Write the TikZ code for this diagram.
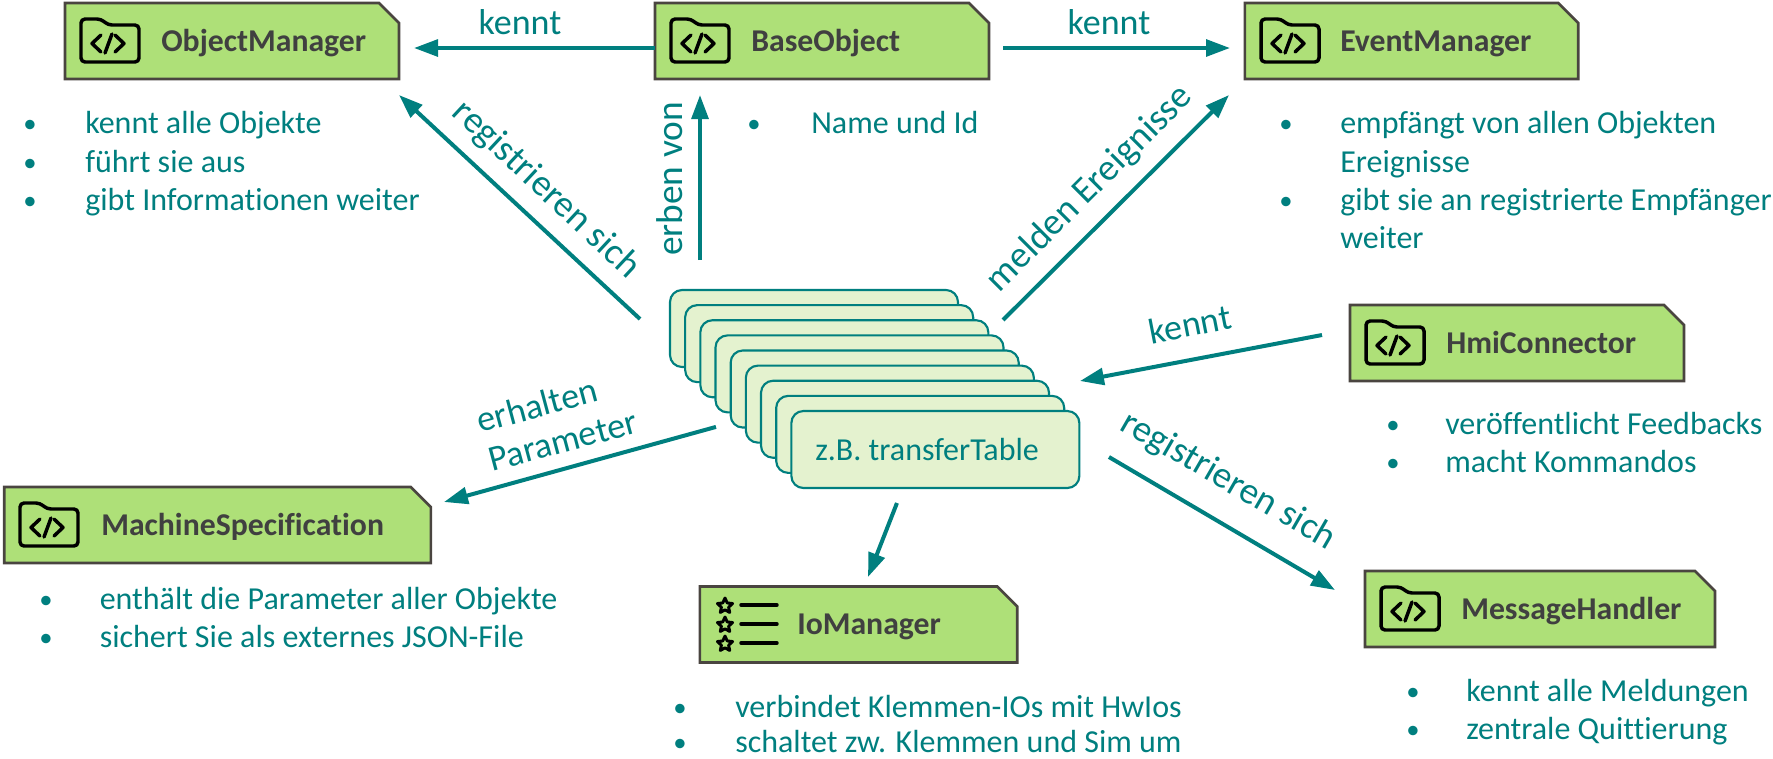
\documentclass[tikz,border=0pt]{standalone}
\usepackage{fontspec}
\setmainfont{Carlito}[Ligatures=NoCommon]
\usetikzlibrary{arrows.meta}
\definecolor{tealc}{HTML}{007F7F}
\definecolor{boxfill}{HTML}{AEE078}
\definecolor{boxline}{HTML}{4A4540}
\definecolor{cardfill}{HTML}{E4F2CF}
\definecolor{titlec}{HTML}{404040}
\tikzset{
  gbox/.style={rectangle,inner sep=0pt,outer sep=0pt,minimum height=57pt},
  gline/.style={draw=boxline,fill=boxfill,line width=2pt,line join=miter},
  card/.style={rectangle,rounded corners=9pt,draw=tealc,fill=cardfill,line width=1.6pt,
    minimum width=216pt,minimum height=57.75pt,inner sep=0pt,outer sep=0pt},
  title/.style={anchor=base west,inner sep=0pt,text=titlec,font=\fontsize{23.8}{28}\selectfont\bfseries},
  body/.style={anchor=base west,inner sep=0pt,text=tealc,font=\fontsize{24}{29}\selectfont},
  bul/.style={anchor=base,inner sep=0pt,text=tealc,font=\fontsize{20}{24}\selectfont},
  elabel/.style={inner sep=0pt,text=tealc,font=\fontsize{27}{33}\selectfont,align=center},
  elong/.style={elabel,font=\fontsize{28}{33}\selectfont},
  conn/.style={draw=tealc,line width=3pt,-{Triangle[length=18pt,width=12.5pt]}},
  ico/.style={draw=black,line width=2.6pt,line cap=round,line join=round},
}
\newcommand{\gnode}[4]{%
  \node[gbox,minimum width=#4pt] (#1) at (#2,#3) {};
  \draw[gline] (#1.north west) -- ([xshift=-15pt]#1.north east) -- ([yshift=-15pt]#1.north east)
     -- (#1.south east) -- (#1.south west) -- cycle;}
\newcommand{\folderico}[2]{%
  \begin{scope}[shift={(#1,#2)}]
    \draw[ico,rounded corners=3pt] (0,43)--(0,0)--(20,0)--(27,6)--(58,6)--(58,43)--cycle;
    \draw[ico] (20,16)--(11,24.5)--(20,33);
    \draw[ico] (31,15)--(24,34);
    \draw[ico] (34,16)--(43,24.5)--(34,33);
  \end{scope}}
\newcommand{\staricon}[2]{%
  \begin{scope}[shift={(#1,#2)}]
    \draw[ico,line width=2.2pt] (-90:8)--(-54:3.8)--(-18:8)--(18:3.8)--(54:8)--(90:3.8)--(126:8)--(162:3.8)--(198:8)--(234:3.8)--cycle;
  \end{scope}}
\newcommand{\bitem}[5]{%
  \node[bul] (#1b) at (#2,#4-1) {•};
  \node[body] (#1t) at (#3,#4) {#5};}
\begin{document}
\begin{tikzpicture}[x=0.75pt,y=-0.75pt]
\useasboundingbox (0,0) rectangle (1773,758);
% boxes
\gnode{om}{232}{41}{250.5}
\gnode{base}{822}{41}{250.5}
\gnode{em}{1411.5}{41}{250}
\gnode{hmi}{1517}{343}{250.5}
\gnode{ms}{217.5}{525}{320}
\gnode{io}{858.5}{624.5}{238}
\gnode{mh}{1540}{609}{262.5}
% icons
\folderico{81}{19}\folderico{671}{19}\folderico{1261}{19}
\folderico{1366}{321}\folderico{20}{503}\folderico{1381}{587}
\staricon{725}{606}\staricon{725}{625}\staricon{725}{644}
\draw[ico] (741,605)--(777,605);
\draw[ico] (741,624)--(777,624);
\draw[ico] (741,643)--(777,643);
% titles
\node[title] (omt) at (161,51) {ObjectManager};
\node[title] (baset) at (751,51) {BaseObject};
\node[title] (emt) at (1340,51) {EventManager};
\node[title] (hmit) at (1446,353) {HmiConnector};
\node[title] (mst) at (101,535) {MachineSpecification};
\node[title] (iot) at (797,634) {IoManager};
\node[title] (mht) at (1461,619) {MessageHandler};
% cards
\foreach \i in {1,...,9}{
  \node[card] (c\i) at ({814+(\i-1)*15.17},{328.5+(\i-1)*15.125}) {};
}
\node[body] (ct) at (815,460) {z.B. transferTable};
% bullets
\bitem{oa}{30}{85}{133}{kennt alle Objekte}
\bitem{ob}{30}{85}{172}{führt sie aus}
\bitem{oc}{30}{85}{210}{gibt Informationen weiter}
\bitem{ba}{754}{811}{133}{Name und Id}
\bitem{ea}{1286}{1340}{133}{empfängt von allen Objekten}
\node[body] (eb) at (1340,172) {Ereignisse};
\bitem{ec}{1286}{1340}{210}{gibt sie an registrierte Empfänger}
\node[body] (ed) at (1340,248) {weiter};
\bitem{ha}{1393}{1445}{434}{veröffentlicht Feedbacks}
\bitem{hb}{1393}{1445}{472}{macht Kommandos}
\bitem{ma}{46}{99.5}{609}{enthält die Parameter aller Objekte}
\bitem{mb}{46}{99.5}{647}{sichert Sie als externes JSON-File}
\bitem{ia}{680}{735}{717}{verbindet Klemmen-IOs mit HwIos}
\bitem{ib}{680}{735}{752}{schaltet zw. Klemmen und Sim um}
\bitem{ja}{1413}{1466}{701}{kennt alle Meldungen}
\bitem{jb}{1413}{1466}{739}{zentrale Quittierung}
% connectors
\draw[conn] ([shift={(-167,7)}]base.center) -- ([shift={(182,7)}]om.center);
\draw[conn] ([shift={(181,7)}]base.center) -- ([shift={(-181.5,7)}]em.center);
\draw[conn] ([shift={(-114,-68.5)}]c1.center) -- ([shift={(-122,54)}]base.center);
\draw[conn] ([shift={(-174,-9.5)}]c1.center) -- ([shift={(167,54)}]om.center);
\draw[conn] ([shift={(189,-8.5)}]c1.center) -- ([shift={(-182.5,54)}]em.center);
\draw[conn] ([shift={(-195,-8)}]hmi.center) -- ([shift={(144.6,-68.5)}]c9.center);
\draw[conn] ([shift={(-158.7,37.9)}]c5.center) -- ([shift={(226.5,-23)}]ms.center);
\draw[conn] ([shift={(-38.4,53.5)}]c9.center) -- ([shift={(9.5,-47.5)}]io.center);
\draw[conn] ([shift={(173.6,7.5)}]c9.center) -- ([shift={(-205,-19)}]mh.center);
% labels
\node[elabel,anchor=base] (l1) at (520,34) {kennt};
\node[elabel,anchor=base] (l2) at (1109,34) {kennt};
\node[elong,rotate=90] (l3) at (670,179) {erben von};
\node[elong,rotate=-43] (l4) at (546,190) {registrieren sich};
\node[elong,rotate=45] (l5) at (1090,189) {melden Ereignisse};
\node[elabel,rotate=11] (l6) at (1190,324) {kennt};
\node[elabel,rotate=15] (l7) at (537,405) {erhalten};
\node[elabel,rotate=15] (l7b) at (563,441) {Parameter};
\node[elong,rotate=-30] (l8) at (1228,481) {registrieren sich};
\end{tikzpicture}
\end{document}
